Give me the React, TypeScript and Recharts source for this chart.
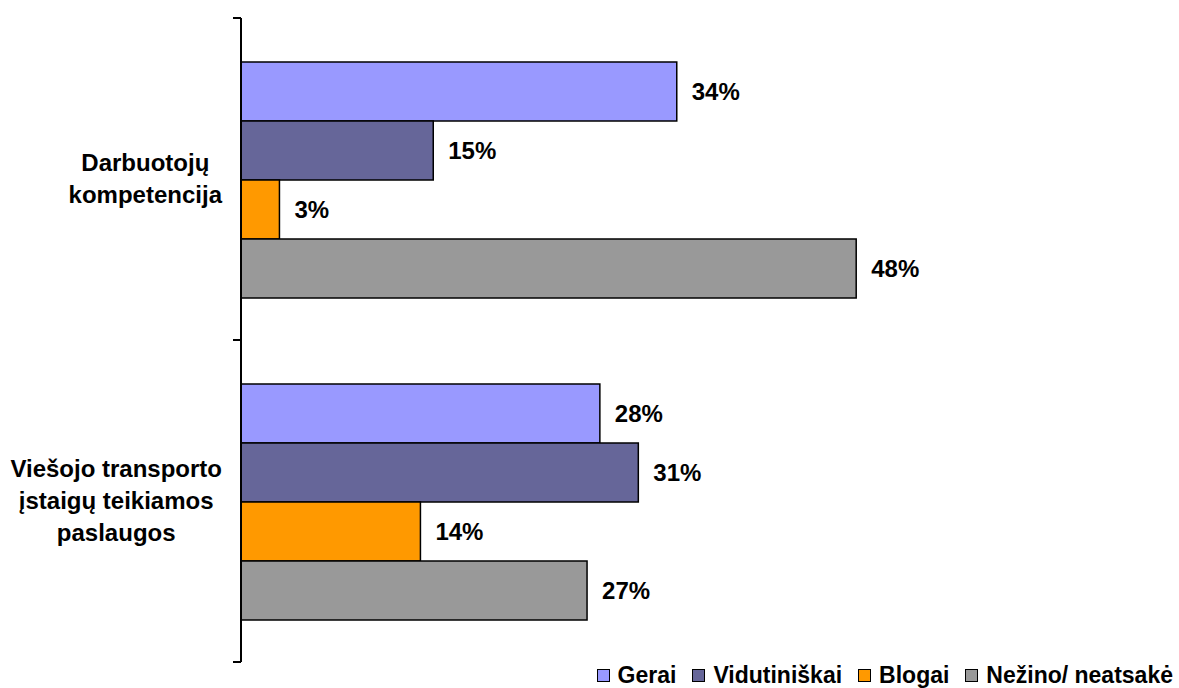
import React from "react";
import { BarChart, Bar, XAxis, YAxis, LabelList } from "recharts";

const categories = ["Darbuotojų\nkompetencija", "Viešojo transporto\nįstaigų teikiamos\npaslaugos"];
const gerai = [34, 28];
const vidutiniskai = [15, 31];
const blogai = [3, 14];
const nezino = [48, 27];

const series = [
    { key: "gerai", name: "Gerai", color: "#9999FF", values: gerai },
    { key: "vidutiniskai", name: "Vidutiniškai", color: "#666699", values: vidutiniskai },
    { key: "blogai", name: "Blogai", color: "#FF9900", values: blogai },
    { key: "nezino", name: "Nežino/ neatsakė", color: "#999999", values: nezino },
];

const data = categories.map((name, i) => {
    const row: Record<string, string | number> = { name };
    series.forEach((s) => (row[s.key] = s.values[i]));
    return row;
});

const FONT = '"Liberation Sans", Arial, sans-serif';
const AXIS_X = 241;
const LABEL_RIGHT = 222;
const HALF_BAND = 161;
const LINE_H = 32;

let ctx: CanvasRenderingContext2D | null = null;
const measure = (t: string) => {
    if (!ctx) {
        ctx = document.createElement("canvas").getContext("2d");
        if (ctx) ctx.font = `bold 24px ${FONT}`;
    }
    return ctx ? ctx.measureText(t).width : t.length * 13;
};

const CategoryTick = (props: any) => {
    const { y, payload } = props;
    const lines = String(payload.value).split("\n");
    const maxW = Math.max(...lines.map(measure));
    const cx = LABEL_RIGHT - maxW / 2;
    const n = lines.length;
    return (
        <g>
            <line x1={AXIS_X - 8} x2={AXIS_X} y1={y - HALF_BAND} y2={y - HALF_BAND} stroke="#000" strokeWidth={2} />
            <line x1={AXIS_X - 8} x2={AXIS_X} y1={y + HALF_BAND} y2={y + HALF_BAND} stroke="#000" strokeWidth={2} />
            <text textAnchor="middle" fontFamily={FONT} fontSize={24} fontWeight="bold" fill="#000">
                {lines.map((l, i) => (
                    <tspan key={i} x={cx} y={y + 8 + (i - (n - 1) / 2) * LINE_H}>{l}</tspan>
                ))}
            </text>
        </g>
    );
};

export default function App() {
    return (
        <div style={{ position: "absolute", left: 0, top: 0, width: 1179, height: 688, background: "#fff", fontFamily: FONT }}>
            <BarChart
                width={1179}
                height={688}
                data={data}
                layout="vertical"
                barCategoryGap={44}
                barGap={0}
                margin={{ top: 18, right: 169, bottom: 26, left: 0 }}
            >
                <XAxis type="number" domain={[0, 60]} hide />
                <YAxis
                    type="category"
                    dataKey="name"
                    width={AXIS_X}
                    interval={0}
                    tickLine={false}
                    axisLine={{ stroke: "#000", strokeWidth: 2 }}
                    tick={<CategoryTick />}
                />
                {series.map((s) => (
                    <Bar key={s.key} dataKey={s.key} name={s.name} fill={s.color} stroke="#000" strokeWidth={1.5} isAnimationActive={false}>
                        <LabelList
                            dataKey={s.key}
                            position="right"
                            offset={15}
                            formatter={(v: any) => v + "%"}
                            style={{ fill: "#000", fontSize: 24, fontWeight: "bold", fontFamily: FONT }}
                        />
                    </Bar>
                ))}
            </BarChart>
            <div style={{ position: "absolute", right: 6, top: 664, height: 22, display: "flex", alignItems: "center", whiteSpace: "nowrap", fontSize: 23, fontWeight: "bold", lineHeight: "22px", color: "#000" }}>
                {series.map((s, i) => (
                    <div key={s.key} style={{ display: "flex", alignItems: "center", marginLeft: i === 0 ? 0 : 16 }}>
                        <span style={{ width: 13, height: 13, boxSizing: "border-box", border: "1.5px solid #000", background: s.color, marginRight: 8 }} />
                        <span>{s.name}</span>
                    </div>
                ))}
            </div>
        </div>
    );
}
